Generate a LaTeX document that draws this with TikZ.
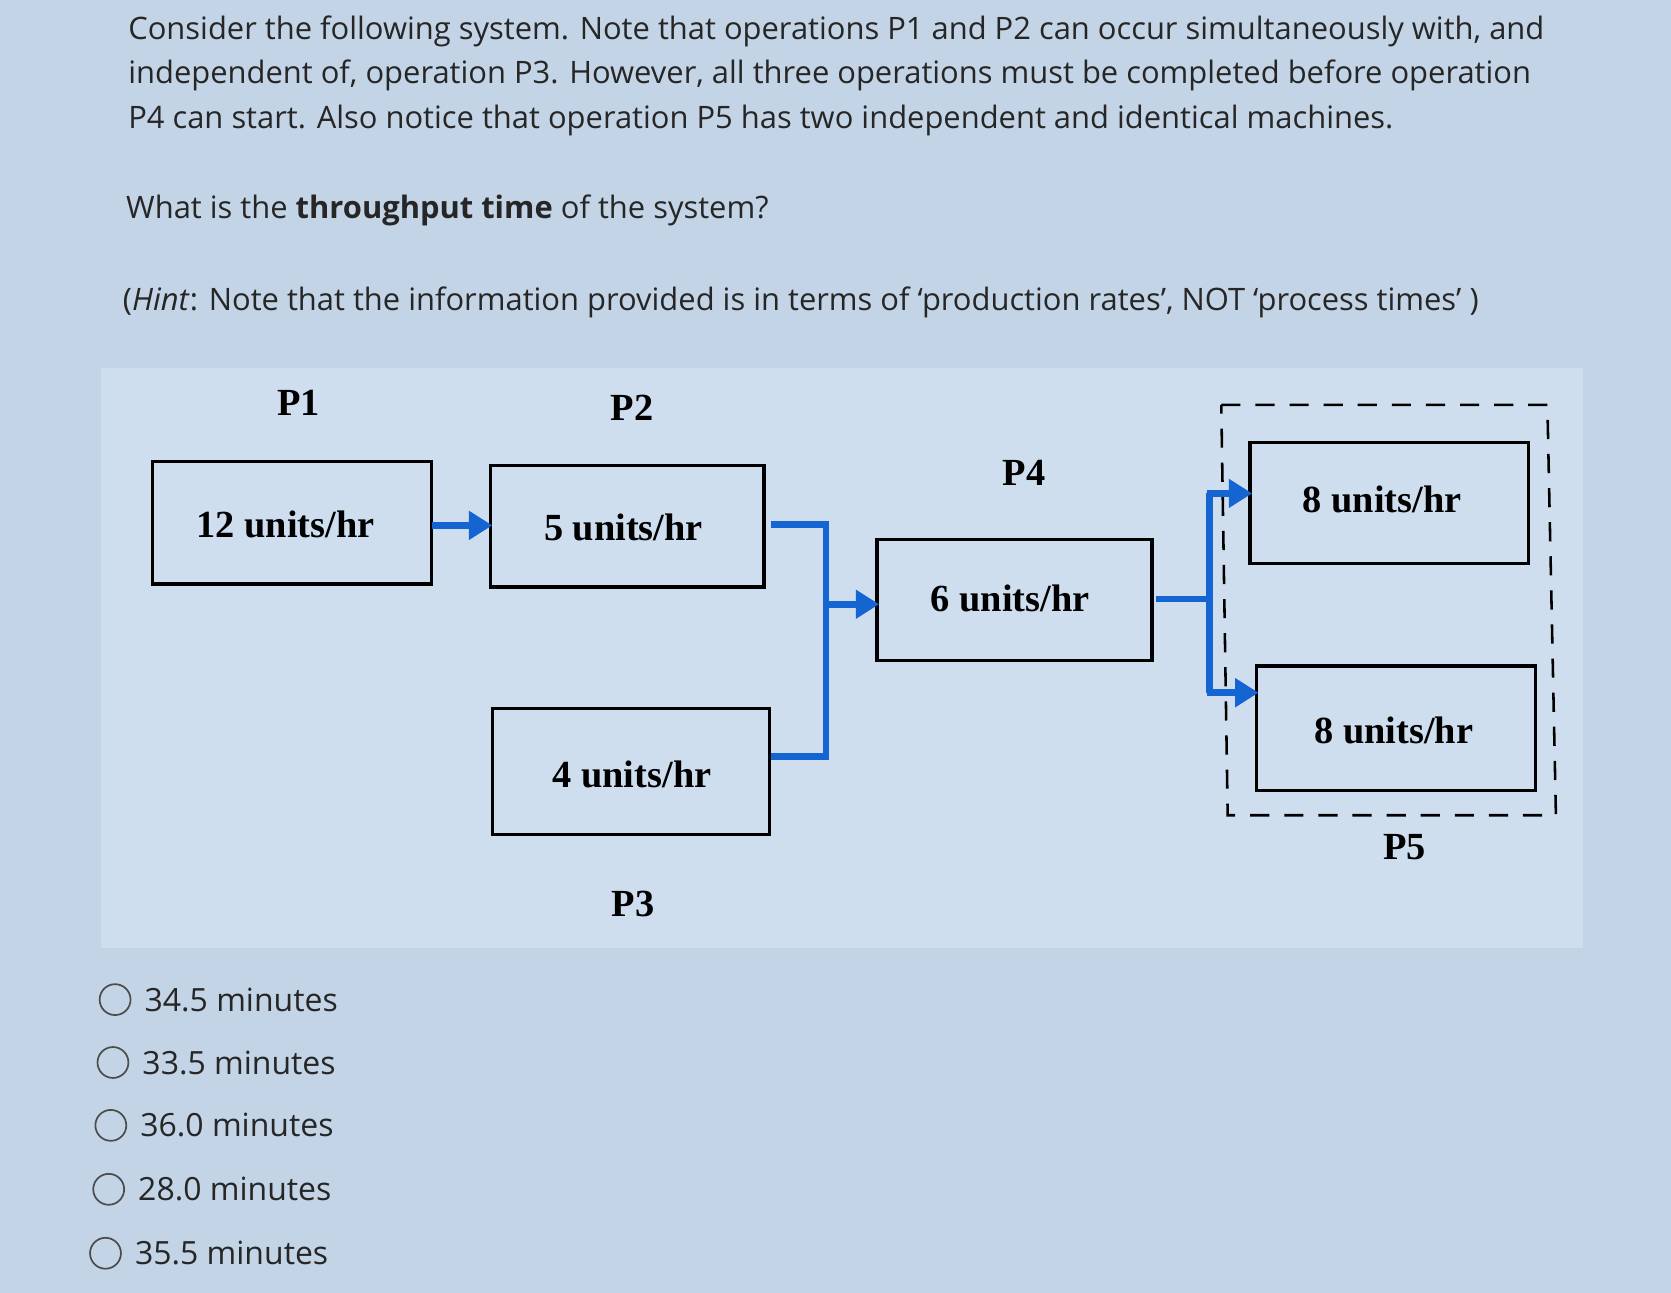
\documentclass[tikz,border=0pt]{standalone}
\usepackage{fontspec}
\setmainfont{Open Sans}
\newfontfamily\tnr{Liberation Serif}
\usetikzlibrary{arrows.meta}
\definecolor{bg}{HTML}{C3D4E6}
\definecolor{panel}{HTML}{CEDEEF}
\definecolor{fl}{HTML}{1464D2}
\begin{document}
\begin{tikzpicture}[x=0.5pt,y=-0.5pt,
  txt/.style={anchor=west,inner sep=0pt,font=\fontsize{14.5}{17}\selectfont,text=black!85},
  box/.style={draw=black,line width=1.6pt},
  lbl/.style={font=\tnr\bfseries\fontsize{18}{21}\selectfont},
  flow/.style={draw=fl,line width=3.2pt},
  farrow/.style={flow,-{Triangle[length=11pt,width=13pt]}},
  opt/.style={draw=black!70,line width=0.8pt,circle,minimum size=14.5pt,inner sep=0pt}]
\fill[bg] (0,0) rectangle (1568,1213);
\useasboundingbox (0,0) rectangle (1568,1213);
\fill[panel] (95,345) rectangle (1485,890);
\node[txt] (t1) at (120,29) {Consider the following system. Note that operations P1 and P2 can occur simultaneously with, and};
\node[txt] (t2) at (120,71) {independent of, operation P3. However, all three operations must be completed before operation};
\node[txt] (t3) at (120,113) {P4 can start. Also notice that operation P5 has two independent and identical machines.};
\node[txt] (t4) at (118,197) {What is the \textbf{throughput time} of the system?};
\node[txt] (t5) at (115,284) {(\textit{Hint}: Note that the information provided is in terms of ‘production rates’, NOT ‘process times’ )};
% boxes
\draw[box] (143,433) rectangle (405,548); \node[lbl] (p1) at (268,492) {12 units/hr};
\draw[box] (460,437) rectangle (717,551); \node[lbl] (p2) at (585,495) {5 units/hr};
\draw[box] (462,665) rectangle (722,783); \node[lbl] (p3) at (593,727) {4 units/hr};
\draw[box] (823,506) rectangle (1081,620); \node[lbl] (p4) at (948,562) {6 units/hr};
\draw[box] (1173,415) rectangle (1434,529); \node[lbl] (p5a) at (1297,469) {8 units/hr};
\draw[box] (1179,625) rectangle (1441,742); \node[lbl] (p5b) at (1308,685) {8 units/hr};
\draw[line width=1.2pt,dash pattern=on 9pt off 7pt] (1146,380) -- (1452,380) -- (1460,765) -- (1152,765) -- cycle;
\node[lbl] (l1) at (280,378) {P1};
\node[lbl] (l2) at (593,383) {P2};
\node[lbl] (l4) at (961,444) {P4};
\node[lbl] (l5) at (1318,795) {P5};
\node[lbl] (l3) at (594,848) {P3};
% flows
\draw[farrow] (405,493) -- (462,493);
\draw[flow] (723,492) -- (775,492) -- (775,710) -- (723,710);
\draw[farrow] (775,567) -- (825,567);
\draw[flow] (1085,562) -- (1135,562);
\draw[flow] (1135,463) -- (1135,650);
\draw[farrow] (1133,463) -- (1175,463);
\draw[farrow] (1133,650) -- (1181,650);
% options
\foreach \y/\x/\t [count=\i] in {938/108/34.5,997/106/33.5,1056/104/36.0,1116/102/28.0,1176/99/35.5}{
  \node[opt] (c\i) at (\x,\y) {};
  \node[txt,font=\fontsize{15}{18}\selectfont] (o\i) at ([xshift=6pt]c\i.east) {\t\ minutes};
}
\end{tikzpicture}
\end{document}
